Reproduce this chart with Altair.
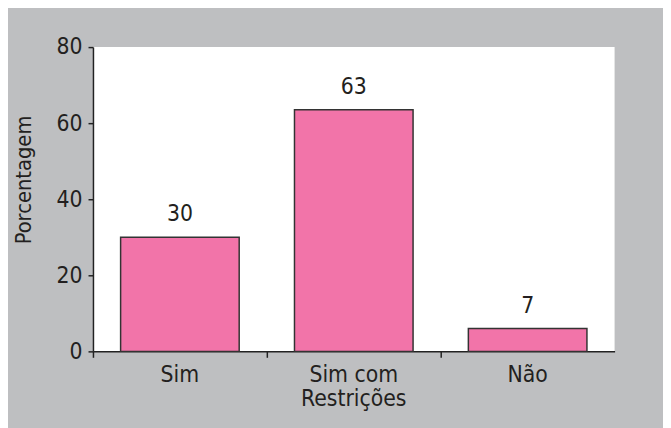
import altair as alt
import pandas as pd

categories = ["Sim", "Sim com|Restrições", "Não"]
values = [30, 63.5, 6]
labels = ["30", "63", "7"]

df = pd.DataFrame({"cat": categories, "val": values, "lab": labels})

FONT = "Liberation Sans Narrow, Arial Narrow, DejaVu Sans Condensed, Liberation Sans, sans-serif"
TXT = "#231f20"

x = alt.X("cat:N", sort=categories, title=None,
          scale=alt.Scale(paddingInner=0, paddingOuter=0),
          axis=alt.Axis(bandPosition=0, labelAngle=0,
                        labelExpr="split(datum.label, '|')",
                        labelLineHeight=25, labelFontSize=23, labelFont=FONT,
                        labelColor=TXT, labelPadding=6, tickSize=6,
                        tickColor="#222", domainColor="#222", domainWidth=1.5,
                        tickWidth=1.5))

y = alt.Y("val:Q", title="Porcentagem",
          scale=alt.Scale(domain=[0, 80]),
          axis=alt.Axis(values=[0, 20, 40, 60, 80], grid=False, tickSize=5,
                        labelFontSize=23, labelFont=FONT, labelColor=TXT,
                        labelPadding=6, tickColor="#222", domainColor="#222",
                        domainWidth=1.5, tickWidth=1.5,
                        titleFont=FONT, titleFontSize=22, titleFontWeight="normal",
                        titleColor=TXT, titleX=-58, titleY=134))

bars = alt.Chart(df).mark_bar(width={"band": 0.682}, color="#f274a9",
                              stroke="#333333", strokeWidth=1.5).encode(x=x, y=y)

text = alt.Chart(df).mark_text(dy=-16, baseline="alphabetic", font=FONT,
                               fontSize=23, color=TXT).encode(
    x=alt.X("cat:N", sort=categories),
    y=alt.Y("val:Q"),
    text="lab:N")

chart = (bars + text).properties(
    width=528, height=308,
    background="#bebfc1",
    autosize=alt.AutoSizeParams(type="none"),
    padding={"left": 86, "top": 37, "right": 49, "bottom": 75},
).configure_view(fill="white", stroke=None)

chart.save("out.html", embed_options={"renderer": "svg", "actions": False})
